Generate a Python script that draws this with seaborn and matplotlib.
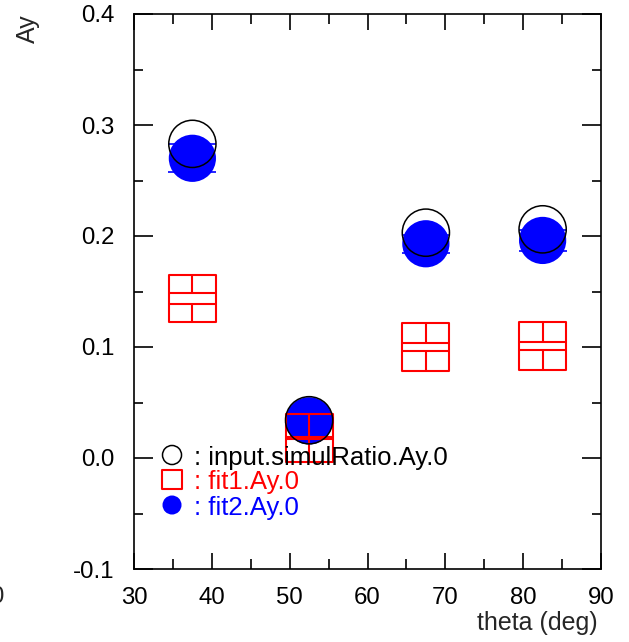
import numpy as np
import pandas as pd
import matplotlib
matplotlib.use("Agg")
import matplotlib.pyplot as plt
from matplotlib.ticker import MultipleLocator
import seaborn as sns

# values
theta = [37.5, 52.5, 67.5, 82.5]
input_ay = [0.283, 0.034, 0.203, 0.206]
fit1_ay = [0.144, 0.018, 0.100, 0.101]
fit1_err = [0.005, 0.0012, 0.0038, 0.0039]
fit2_ay = [0.270, 0.0335, 0.193, 0.196]
fit2_err = [0.0125, 0.005, 0.008, 0.0096]
labels = ["input.simulRatio.Ay.0", "fit1.Ay.0", "fit2.Ay.0"]

sns.set_theme(style="ticks")
plt.rcParams["font.family"] = ["Liberation Sans", "DejaVu Sans"]

df = pd.DataFrame({"theta": theta, "input": input_ay, "fit1": fit1_ay,
                   "fit1_err": fit1_err, "fit2": fit2_ay, "fit2_err": fit2_err})

fig = plt.figure(figsize=(6.29, 6.42), dpi=100)
ax = fig.add_axes([134 / 629, 73 / 642, 467 / 629, 555 / 642])
ax.set_xlim(30, 90)
ax.set_ylim(-0.1, 0.4)

msize = 34  # marker size in points
s = msize ** 2

# fit2: blue filled circles with error caps
ax.errorbar(df.theta, df.fit2, yerr=df.fit2_err, fmt="none", ecolor="blue",
            elinewidth=1.2, capsize=msize / 2, capthick=1.2, zorder=2)
sns.scatterplot(data=df, x="theta", y="fit2", marker="o", s=s, color="blue",
                edgecolor="none", linewidth=0, ax=ax, zorder=3)

# fit1: red open squares, ROOT style error drawing (caps + lines to marker edge)
sns.scatterplot(data=df, x="theta", y="fit1", marker="s", s=s, facecolor="none",
                edgecolor="red", linewidth=1.5, ax=ax, zorder=4)
ax.errorbar(df.theta, df.fit1, yerr=df.fit1_err, fmt="none", ecolor="red",
            elinewidth=0, capsize=msize / 2, capthick=1.5, zorder=4)
half_px = msize / 2 * fig.dpi / 72
y0 = ax.transData.transform((0, 0))[1]
half = ax.transData.inverted().transform((0, y0 + half_px))[1]
ax.vlines(df.theta, df.fit1 + df.fit1_err, df.fit1 + half, color="red", lw=1.5, zorder=4)
ax.vlines(df.theta, df.fit1 - df.fit1_err, df.fit1 - half, color="red", lw=1.5, zorder=4)

# input: black open circles
sns.scatterplot(data=df, x="theta", y="input", marker="o", s=s, facecolor="none",
                edgecolor="black", linewidth=1.1, ax=ax, zorder=5)

# axes style
for sp in ax.spines.values():
    sp.set_visible(True)
    sp.set_linewidth(1.2)
    sp.set_color("black")
ax.xaxis.set_major_locator(MultipleLocator(10))
ax.xaxis.set_minor_locator(MultipleLocator(5))
ax.yaxis.set_major_locator(MultipleLocator(0.1))
ax.yaxis.set_minor_locator(MultipleLocator(0.05))
ax.yaxis.set_major_formatter(lambda v, p: f"{v:.1f}")
ax.tick_params(which="both", direction="in", top=True, right=True,
               width=1.2, color="black", labelsize=17.3, labelcolor="black")
ax.tick_params(axis="y", which="major", length=13.7, pad=14)
ax.tick_params(axis="y", which="minor", length=6.8)
ax.tick_params(axis="x", which="major", length=11.5, pad=13)
ax.tick_params(axis="x", which="minor", length=7.2)
ax.grid(False)

ax.set_xlabel("")
ax.set_ylabel("")
ax.text(0.992, -0.075, "theta (deg)", transform=ax.transAxes, ha="right",
        va="top", fontsize=18)
ax.text(-0.228, 1.0, "Ay", transform=ax.transAxes, rotation=90, ha="center",
        va="top", fontsize=18)

# legend, ROOT style
leg_y = [0.2054, 0.1604, 0.1153]
leg_s = 13.7 ** 2
ax.scatter([0.0814], [leg_y[0]], transform=ax.transAxes, marker="o", s=leg_s,
           facecolor="none", edgecolor="black", linewidth=1.1, zorder=6)
ax.scatter([0.0814], [leg_y[1]], transform=ax.transAxes, marker="s", s=leg_s,
           facecolor="none", edgecolor="red", linewidth=1.5, zorder=6)
ax.scatter([0.0814], [leg_y[2]], transform=ax.transAxes, marker="o", s=leg_s,
           color="blue", edgecolor="none", zorder=6)
for yy, lab, col in zip(leg_y, labels, ["black", "red", "blue"]):
    ax.text(0.128, yy, ": " + lab, transform=ax.transAxes, color=col,
            fontsize=18.5, ha="left", va="center_baseline", zorder=6)

# stray clipped label at the far left, as in the reference
fig.text(3.5 / 629, 1 - 597 / 642, "0", ha="right", va="center", fontsize=17.3)

fig.savefig("out.png", dpi=100)
